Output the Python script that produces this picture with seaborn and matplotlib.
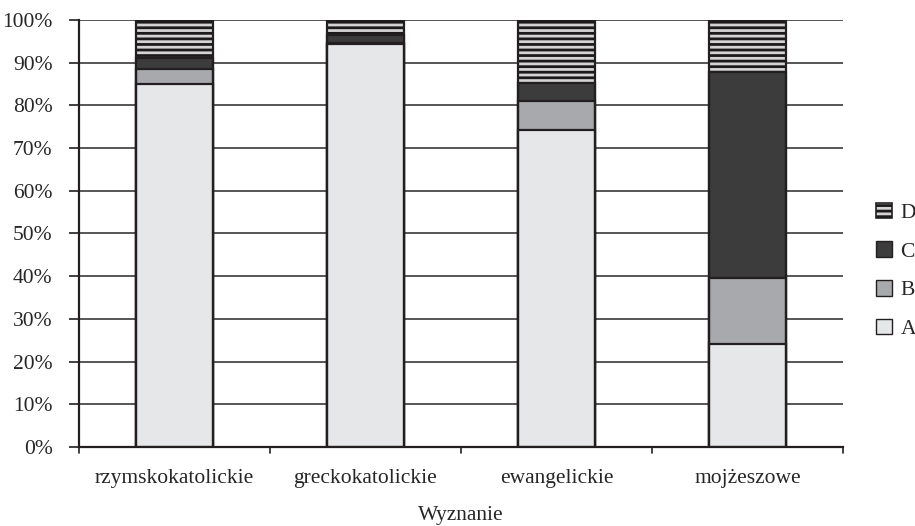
import pandas as pd
import matplotlib
matplotlib.use("Agg")
import matplotlib.pyplot as plt
import matplotlib.patches as mpatches
from matplotlib.legend_handler import HandlerTuple
import seaborn as sns

wyznania = ["rzymskokatolickie", "greckokatolickie", "ewangelickie", "mojżeszowe"]
A = [85.0, 94.3, 74.2, 24.1]
B = [3.5, 0.3, 6.8, 15.4]
C = [2.6, 1.9, 4.2, 48.4]
D = [8.9, 3.5, 14.8, 12.1]

df = pd.DataFrame({"Wyznanie": wyznania, "A": A, "B": B, "C": C, "D": D})
df["AB"] = df["A"] + df["B"]
df["ABC"] = df["AB"] + df["C"]
df["ABCD"] = df["ABC"] + df["D"]

sns.set_theme(style="white")
plt.rcParams["font.family"] = ["Liberation Serif", "DejaVu Serif"]
plt.rcParams["hatch.linewidth"] = 2.0

edge = "#231f20"
colors = {"A": "#e6e7e9", "B": "#a7a9ac", "C": "#3c3c3c", "D": "#1c1a1b"}
fs = 15.5

fig = plt.figure(figsize=(9.15, 5.26), dpi=100)
ax = fig.add_axes([0.0863, 0.1502, 0.835, 0.8118])

# grid lines behind bars
for v in range(10, 101, 10):
    ax.axhline(v, color="#3a3a3a", lw=1.2, zorder=0)

w = 0.4
# D layer: hatched (light lines on black)
sns.barplot(data=df, x="Wyznanie", y="ABCD", color=colors["D"], saturation=1,
            width=w, hatch="---", edgecolor="#d4d4d4", linewidth=0, ax=ax, zorder=2)
for col in ["ABC", "AB", "A"]:
    key = {"ABC": "C", "AB": "B", "A": "A"}[col]
    sns.barplot(data=df, x="Wyznanie", y=col, color=colors[key], saturation=1,
                width=w, edgecolor=edge, linewidth=1.6, ax=ax, zorder=3)
# outline around whole bar
sns.barplot(data=df, x="Wyznanie", y="ABCD", fill=False, width=w,
            edgecolor=edge, linewidth=1.6, ax=ax, zorder=4)

ax.set_ylim(0, 100)
ax.set_xlim(-0.5, 3.5)
ax.set_yticks(range(0, 101, 10))
ax.set_yticklabels([f"{v}%" for v in range(0, 101, 10)], fontsize=fs)
ax.set_xticks(range(4))
ax.set_xticklabels(wyznania, fontsize=fs)
ax.tick_params(axis="x", length=0, pad=16)
ax.tick_params(axis="y", length=7, width=1.2, color=edge, direction="out", pad=12, left=True)
for b in [-0.5, 0.5, 1.5, 2.5, 3.5]:
    ax.plot([b, b], [0, -1.3], color=edge, lw=1.2, clip_on=False, zorder=5)

ax.set_xlabel("Wyznanie", fontsize=fs, labelpad=13)
ax.set_ylabel("")

for s in ["top", "right"]:
    ax.spines[s].set_visible(False)
ax.spines["left"].set_color(edge)
ax.spines["left"].set_linewidth(1.6)
ax.spines["bottom"].set_color(edge)
ax.spines["bottom"].set_linewidth(1.6)

d_fill = mpatches.Patch(facecolor=colors["D"], edgecolor="#d4d4d4", hatch="---", lw=0)
d_line = mpatches.Patch(facecolor="none", edgecolor=edge, lw=1.2)
handles = [
    (d_fill, d_line),
    mpatches.Patch(facecolor=colors["C"], edgecolor=edge),
    mpatches.Patch(facecolor=colors["B"], edgecolor=edge),
    mpatches.Patch(facecolor=colors["A"], edgecolor=edge),
]
fig.legend(handles=handles, labels=["D", "C", "B", "A"], loc="center left",
           bbox_to_anchor=(0.957, 0.485), frameon=False, fontsize=fs,
           handlelength=0.75, handleheight=0.75, labelspacing=0.85,
           handletextpad=0.4, borderpad=0, borderaxespad=0,
           handler_map={tuple: HandlerTuple(ndivide=1, pad=0)})

fig.savefig("out.png", dpi=100)
